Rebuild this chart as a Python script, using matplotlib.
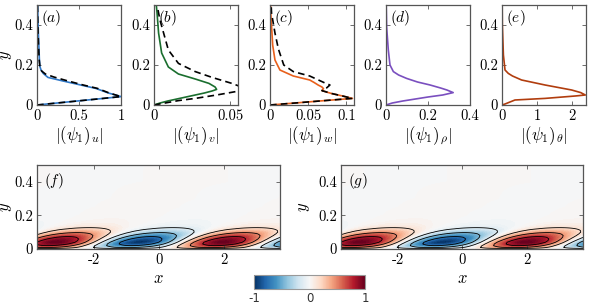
import matplotlib
matplotlib.use("Agg")
import matplotlib.pyplot as plt
import numpy as np

plt.rcParams["font.family"] = ["cmr10", "DejaVu Serif"]
plt.rcParams["mathtext.fontset"] = "cm"
plt.rcParams["axes.unicode_minus"] = False

# ---- profile data (x = amplitude, y = wall-normal) ----
u_y = [0, 0.01, 0.02, 0.03, 0.042, 0.06, 0.083, 0.10, 0.12, 0.138, 0.158, 0.175, 0.192, 0.23, 0.275, 0.35, 0.42, 0.5]
u_x = [0, 0.24, 0.48, 0.72, 1.0, 0.85, 0.70, 0.52, 0.31, 0.13, 0.074, 0.048, 0.035, 0.028, 0.024, 0.017, 0.012, 0.008]
u_ref_y = [0, 0.01, 0.02, 0.03, 0.042, 0.06, 0.083, 0.10, 0.12, 0.14, 0.155, 0.17, 0.19, 0.23, 0.3, 0.4, 0.5]
u_ref_x = [0, 0.24, 0.48, 0.72, 1.0, 0.86, 0.72, 0.55, 0.37, 0.2, 0.1, 0.055, 0.035, 0.025, 0.018, 0.01, 0.006]

v_y = [0, 0.01, 0.02, 0.03, 0.04, 0.05, 0.06, 0.07, 0.078, 0.09, 0.108, 0.13, 0.155, 0.19, 0.26, 0.36, 0.46, 0.5]
v_x = [0, 0.004, 0.009, 0.015, 0.021, 0.027, 0.033, 0.038, 0.041, 0.040, 0.036, 0.027, 0.016, 0.0094, 0.005, 0.003, 0.002, 0.0015]
v_ref_y = [0, 0.011, 0.022, 0.033, 0.05, 0.067, 0.078, 0.088, 0.108, 0.138, 0.167, 0.208, 0.275, 0.425, 0.5]
v_ref_x = [0, 0.008, 0.016, 0.027, 0.041, 0.0535, 0.06, 0.058, 0.051, 0.038, 0.027, 0.016, 0.0094, 0.0039, 0.002]

w_y = [0, 0.01, 0.02, 0.033, 0.045, 0.058, 0.072, 0.082, 0.09, 0.1, 0.112, 0.125, 0.145, 0.175, 0.225, 0.3, 0.46, 0.5]
w_x = [0, 0.033, 0.065, 0.108, 0.095, 0.08, 0.068, 0.07, 0.068, 0.063, 0.058, 0.052, 0.0305, 0.013, 0.0065, 0.0035, 0.001, 0.0008]
w_ref_y = [0, 0.01, 0.02, 0.033, 0.045, 0.058, 0.072, 0.085, 0.1, 0.11, 0.145, 0.167, 0.2, 0.28, 0.36, 0.46, 0.5]
w_ref_x = [0, 0.033, 0.065, 0.108, 0.095, 0.08, 0.068, 0.074, 0.0785, 0.072, 0.052, 0.0305, 0.018, 0.011, 0.0065, 0.002, 0.0015]

rho_y = [0, 0.01, 0.02, 0.03, 0.04, 0.05, 0.062, 0.075, 0.085, 0.1, 0.115, 0.133, 0.15, 0.167, 0.2, 0.275, 0.39, 0.5]
rho_x = [0, 0.03, 0.08, 0.14, 0.2, 0.27, 0.32, 0.29, 0.26, 0.21, 0.15, 0.098, 0.06, 0.035, 0.019, 0.011, 0.003, 0.001]

th_y = [0, 0.005, 0.025, 0.033, 0.045, 0.05, 0.062, 0.075, 0.1, 0.125, 0.145, 0.158, 0.175, 0.25, 0.4, 0.5]
th_x = [0, 0.086, 0.37, 1.23, 2.09, 2.38, 2.25, 1.99, 1.23, 0.56, 0.3, 0.18, 0.086, 0.04, 0.01, 0.005]

# ---- streamwise mode shape for the (x, y) maps ----
field_y = [0, 0.005, 0.01, 0.02, 0.03, 0.04, 0.05, 0.06, 0.07, 0.08, 0.09, 0.10, 0.11, 0.12, 0.13,
           0.14, 0.16, 0.18, 0.2, 0.25, 0.3, 0.4, 0.5]
field_amp = [0, 0.25, 0.5, 0.75, 0.92, 1.0, 0.97, 0.9, 0.8, 0.68, 0.55, 0.42, 0.3, 0.2, 0.13,
             0.08, 0.04, 0.025, 0.015, 0.008, 0.004, 0.001, 0]
field_shift = [-0.5, -0.45, -0.38, -0.25, -0.12, 0, 0.11, 0.22, 0.33, 0.45, 0.57, 0.7, 0.82, 0.95, 1.08,
               1.22, 1.5, 1.75, 2.0, 2.5, 3.0, 4.0, 5.0]
wavelength = 5.16
x_red = -3.18
x_range = (-3.76, 3.74)
contour_levels = [-0.75, -0.45, -0.15, 0.15, 0.45, 0.75]

W, H = 598, 306
fig = plt.figure(figsize=(W / 100, H / 100), dpi=100)


def frac(left, top, right, bottom):
    return [left / W, 1 - bottom / H, (right - left) / W, (bottom - top) / H]


def style(ax):
    for s in ax.spines.values():
        s.set_color("#555555")
        s.set_linewidth(0.9)
    ax.tick_params(direction="in", top=True, right=True, length=3, width=0.6,
                   color="#555555", labelsize=10.5, pad=3)


top_lefts = [37, 154, 270, 386, 502]
panels = [
    ("a", u_x, u_y, u_ref_x, u_ref_y, "#2f78c8", (0, 1), [0, 0.5, 1], ["0", "0.5", "1"], r"$|(\psi_1)_u|$"),
    ("b", v_x, v_y, v_ref_x, v_ref_y, "#1a6e2e", (0, 0.055), [0, 0.05], ["0", "0.05"], r"$|(\psi_1)_v|$"),
    ("c", w_x, w_y, w_ref_x, w_ref_y, "#e8601c", (0, 0.11), [0, 0.05, 0.1], ["0", "0.05", "0.1"], r"$|(\psi_1)_w|$"),
    ("d", rho_x, rho_y, None, None, "#7a4fbf", (0, 0.4), [0, 0.2, 0.4], ["0", "0.2", "0.4"], r"$|(\psi_1)_\rho|$"),
    ("e", th_x, th_y, None, None, "#b13d0e", (0, 2.4), [0, 1, 2], ["0", "1", "2"], r"$|(\psi_1)_\theta|$"),
]

for left, (lab, xs, ys, rx, ry, col, xl, xt, xtl, xlab) in zip(top_lefts, panels):
    ax = fig.add_axes(frac(left, 5, left + 84, 105))
    ax.plot(xs, ys, color=col, lw=1.2)
    if rx is not None:
        ax.plot(rx, ry, color="black", lw=1.2, ls=(0, (4, 2.5)))
    ax.set_xlim(*xl)
    ax.set_ylim(0, 0.5)
    ax.set_xticks(xt)
    ax.set_xticklabels(xtl)
    ax.set_yticks([0, 0.2, 0.4])
    ax.set_yticklabels(["0", "0.2", "0.4"])
    ax.set_xlabel(xlab, fontsize=12, labelpad=1)
    ax.text(0.05, 0.97, r"$(%s)$" % lab, transform=ax.transAxes, va="top", ha="left", fontsize=11)
    style(ax)
    if lab == "a":
        ax.set_ylabel(r"$y$", fontsize=12)
        ax.yaxis.set_label_coords(-0.27, 0.5)

# ---- (x, y) maps ----
xg = np.linspace(x_range[0], x_range[1], 400)
amp = np.array(field_amp)
shift = np.array(field_shift)
phase = 2 * np.pi * (xg[None, :] - x_red - shift[:, None]) / wavelength
field = amp[:, None] * np.cos(phase)

for lab, (l, r), ylx in zip(["f", "g"], [(37, 280), (341, 583)], [-0.095, -0.12]):
    ax = fig.add_axes(frac(l, 165, r, 249))
    ax.contourf(xg, field_y, field, levels=np.linspace(-1, 1, 81), cmap="RdBu_r", vmin=-1, vmax=1)
    ax.contour(xg, field_y, field, levels=contour_levels, colors="black", linewidths=0.6,
               linestyles="solid")
    ax.set_xlim(*x_range)
    ax.set_ylim(0, 0.5)
    ax.set_xticks([-2, 0, 2])
    ax.set_xticklabels(["-2", "0", "2"])
    ax.set_yticks([0, 0.2, 0.4])
    ax.set_yticklabels(["0", "0.2", "0.4"])
    ax.set_xlabel(r"$x$", fontsize=12, labelpad=3)
    ax.set_ylabel(r"$y$", fontsize=12)
    ax.yaxis.set_label_coords(ylx, 0.5)
    ax.text(0.03, 0.93, r"$(%s)$" % lab, transform=ax.transAxes, va="top", ha="left", fontsize=11)
    style(ax)

# ---- colourbar ----
cax = fig.add_axes(frac(254, 275, 365, 289))
sm = plt.cm.ScalarMappable(cmap="RdBu_r", norm=plt.Normalize(-1, 1))
cb = fig.colorbar(sm, cax=cax, orientation="horizontal")
cb.set_ticks([-1, 0, 1])
cb.set_ticklabels(["-1", "0", "1"])
cb.outline.set_edgecolor("#999999")
cb.outline.set_linewidth(0.8)
cax.tick_params(length=0, labelsize=8.5, pad=2, labelcolor="#333333")
for t in cax.get_xticklabels():
    t.set_fontfamily("DejaVu Sans")

fig.savefig("out.png", dpi=100)
